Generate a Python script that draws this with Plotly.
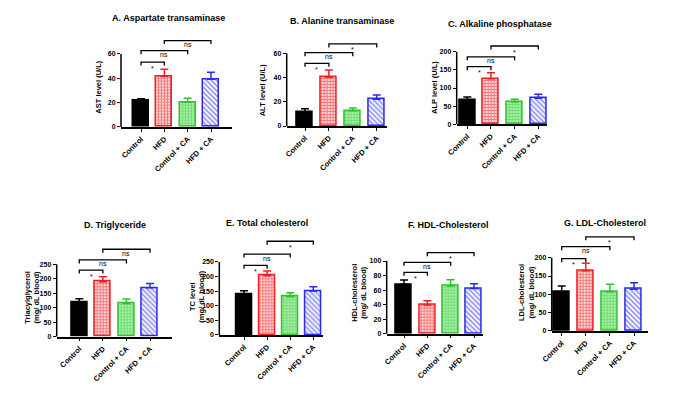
import plotly.graph_objects as go

W, H = 676, 393

groups = ["Control", "HFD", "Control + CA", "HFD + CA"]

titles = ["A. Aspartate transaminase", "B. Alanine transaminase", "C. Alkaline phosphatase",
          "D. Triglyceride", "E. Total cholesterol", "F. HDL-Cholesterol", "G. LDL-Cholesterol"]
ytitles = ["AST level (U/L)", "ALT level (U/L)", "ALP level (U/L)",
           "Triacylglycerol<br>(mg/ dL blood)", "TC level<br>(mg/ dL blood)",
           "HDL-cholesterol<br>(mg/ dL blood)", "LDL-cholesterol<br>(mg/ dL blood)"]

# means and SEM (upper error bar) per panel
ast_mean = [21.6, 41.7, 20.3, 39.2]
ast_sem = [1.7, 5.7, 3.3, 5.8]
alt_mean = [11.8, 40.2, 12.6, 22.0]
alt_sem = [2.5, 6.0, 2.3, 3.6]
alp_mean = [67, 125.6, 61.4, 71.6]
alp_sem = [8, 16.4, 7.5, 11]
tg_mean = [117.4, 190, 115, 169]
tg_sem = [13.6, 17, 15, 15]
tc_mean = [139.4, 203, 131, 150.7]
tc_sem = [12.3, 16, 14, 14.3]
hdl_mean = [68, 39.5, 65.6, 62]
hdl_sem = [5.9, 5.9, 8.7, 6.8]
ldl_mean = [105.6, 164.5, 107, 113.8]
ldl_sem = [17.2, 20.2, 20.4, 18]

# y-axis ticks
ytick_max = [60, 60, 200, 250, 250, 100, 200]
ytick_step = [20, 20, 50, 50, 50, 20, 50]

# significance brackets: pairs, heights, labels
bracket_pairs = [(0, 1), (0, 2), (1, 3)]
ast_brk = [53.4, 62.7, 71]
alt_brk = [51.7, 60.5, 67.7]
alp_brk = [158.7, 186, 215.7]
tg_brk = [230, 265, 302]
tc_brk = [238.7, 277, 321]
hdl_brk = [84.4, 98.2, 111.4]
ldl_brk = [197.4, 230, 257]
ast_sig = ["*", "ns", "ns"]
alt_sig = ["*", "ns", "*"]
alp_sig = ["*", "ns", "*"]
tg_sig = ["*", "ns", "ns"]
tc_sig = ["*", "ns", "*"]
hdl_sig = ["*", "ns", "*"]
ldl_sig = ["*", "ns", "*"]

means = [ast_mean, alt_mean, alp_mean, tg_mean, tc_mean, hdl_mean, ldl_mean]
sems = [ast_sem, alt_sem, alp_sem, tg_sem, tc_sem, hdl_sem, ldl_sem]
brks = [ast_brk, alt_brk, alp_brk, tg_brk, tc_brk, hdl_brk, ldl_brk]
sigs = [ast_sig, alt_sig, alp_sig, tg_sig, tc_sig, hdl_sig, ldl_sig]

# layout geometry in pixels:
# axis left, axis right, first bar centre, last bar centre, zero y, top-tick y,
# y-title x, y-title y, title x, title y
PANELS = [
    (121, 232, 141, 211, 127, 54, 97.7, 87, 168, 18),
    (286.7, 387, 305, 376.7, 126, 53.3, 263.3, 90, 341.7, 20.7),
    (456.7, 547, 467.3, 538.3, 124.3, 51.7, 434, 87, 500, 24.3),
    (56.7, 172, 79.3, 150, 336.7, 264.3, 31.7, 297, 115, 225),
    (219.3, 322.7, 244, 313.3, 335, 262, 196.7, 297, 266.7, 223.3),
    (386.7, 482.7, 404, 474, 333.7, 261, 358.7, 293, 448, 225),
    (551.7, 648, 561.7, 634, 331, 257.7, 526, 293, 605, 222.7),
]

FONT = "Arial, Liberation Sans, sans-serif"
colors = ["#000000", "#ee2024", "#2fc42f", "#2a2ae8"]
patterns = [
    dict(shape=""),
    dict(shape="+", fgcolor="#ee2024", bgcolor="#fcd6d6", size=3, solidity=0.55),
    dict(shape="+", fgcolor="#2fc42f", bgcolor="#a8eea8", size=3, solidity=0.45),
    dict(shape="\\", fgcolor="#2a2ae8", bgcolor="#ffffff", size=3.5, solidity=0.5),
]

fig = go.Figure()
shapes = []
annotations = []
layout_axes = {}

for k in range(7):
    left, right, b0, b3, zero, tpx, ytx, yty, ttx, tty = PANELS[k]
    n = "" if k == 0 else str(k + 1)
    xa, ya = "x" + n, "y" + n
    s = (b3 - b0) / 3.0
    xr = [(left - b0) / s, (right - b0) / s]
    ymax = ytick_max[k]
    ppu = (zero - tpx) / ymax
    top_px = zero - max(brks[k]) * ppu - 6
    R = (zero - top_px) / ppu

    for g in range(4):
        fig.add_trace(go.Bar(
            x=[g], y=[means[k][g]], width=0.68,
            marker=dict(color=colors[g] if g == 0 else patterns[g].get("bgcolor", "white"),
                        line=dict(color=colors[g], width=1.5),
                        pattern=patterns[g]),
            error_y=dict(type="data", symmetric=False, array=[sems[k][g]], arrayminus=[0],
                         color=colors[g], thickness=1.5, width=4),
            xaxis=xa, yaxis=ya, showlegend=False, hoverinfo="skip",
        ))

    layout_axes["xaxis" + n] = dict(
        domain=[left / W, right / W], anchor=ya, range=xr, automargin=False,
        showline=True, linecolor="black", linewidth=1.5,
        ticks="outside", ticklen=3, tickwidth=1.2, tickcolor="black",
        tickvals=list(range(4)), ticktext=groups, tickangle=-45,
        tickfont=dict(family=FONT, size=7.5, color="black", weight="bold"),
        showgrid=False, zeroline=False, fixedrange=True,
    )
    layout_axes["yaxis" + n] = dict(
        domain=[1 - zero / H, 1 - top_px / H], anchor=xa, range=[0, R], automargin=False,
        tickvals=list(range(0, ymax + 1, ytick_step[k])),
        ticks="outside", ticklen=3, tickwidth=1.2, tickcolor="black",
        tickfont=dict(family=FONT, size=7, color="black", weight="bold"),
        showline=False, showgrid=False, zeroline=False, fixedrange=True,
    )
    # y axis line only up to the top tick
    shapes.append(dict(type="line", xref=xa + " domain", yref=ya, x0=0, x1=0, y0=0, y1=ymax,
                       line=dict(color="black", width=1.5)))
    # brackets
    tick = 3.5 / ppu
    for (i, j), h, lab in zip(bracket_pairs, brks[k], sigs[k]):
        shapes.append(dict(type="path", xref=xa, yref=ya,
                           path=f"M {i},{h - tick} L {i},{h} L {j},{h} L {j},{h - tick}",
                           line=dict(color="black", width=1.3)))
        annotations.append(dict(x=(i + j) / 2, y=h, xref=xa, yref=ya, text=lab, showarrow=False,
                                yshift=-4 if lab == "ns" else -6,
                                font=dict(family=FONT, size=7, color="#000000")))
    # titles
    annotations.append(dict(x=ttx / W, y=1 - tty / H, xref="paper", yref="paper", text=titles[k],
                            showarrow=False, xanchor="center", yanchor="middle",
                            font=dict(family=FONT, size=9, color="black", weight="bold")))
    annotations.append(dict(x=ytx / W, y=1 - yty / H, xref="paper", yref="paper", text=ytitles[k],
                            showarrow=False, xanchor="center", yanchor="middle", textangle=-90,
                            font=dict(family=FONT, size=7.5, color="black", weight="bold")))

fig.update_layout(
    width=W, height=H, margin=dict(l=0, r=0, t=0, b=0, pad=0, autoexpand=False),
    paper_bgcolor="white", plot_bgcolor="white",
    barmode="overlay", bargap=0, hovermode=False,
    shapes=shapes, annotations=annotations,
    **layout_axes,
)

fig.write_html("out.html", config={"displayModeBar": False},
               post_script="document.body.style.margin='0';")
